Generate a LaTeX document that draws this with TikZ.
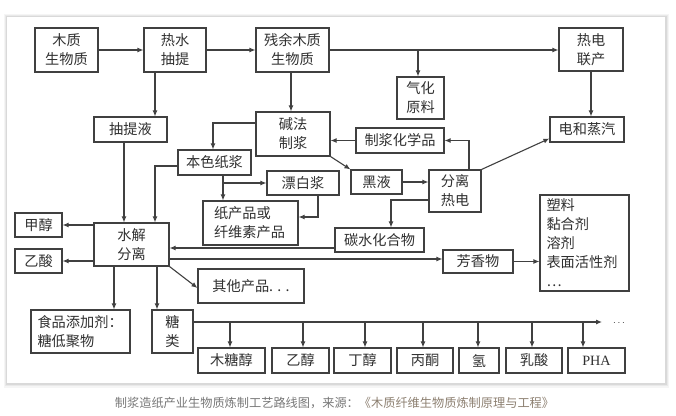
\documentclass[tikz,border=0pt]{standalone}
\usepackage{fontspec}
\setmainfont{Noto Sans CJK SC}
\newfontfamily\phafont{Liberation Serif}
\usetikzlibrary{arrows.meta}
\definecolor{ln}{HTML}{404040}
\definecolor{tx}{HTML}{303030}
\definecolor{capa}{HTML}{777777}
\definecolor{capb}{HTML}{8C7F70}
\newcommand\bx[6]{\node[box,minimum width=#4pt,minimum height=#5pt] (#1) at (#2,#3) {#6};}
\begin{document}
\begin{tikzpicture}[x=1pt,y=-1pt,
  box/.style={draw=ln, line width=1.1pt, text=tx, inner sep=0pt, align=center, font=\fontsize{14.2}{19}\selectfont},
  arr/.style={draw=ln, line width=1.1pt, -{Latex[length=6pt,width=5pt]}},
  plain/.style={draw=ln, line width=1.1pt}]
\useasboundingbox (0,0) rectangle (676,415);
% card with soft shadow
\fill[black,opacity=0.04] (4,14) rectangle (669,388);
\fill[black,opacity=0.05] (5,15) rectangle (668,386);
\fill[black,opacity=0.07] (6,16) rectangle (667,385);
\fill[white] (7,17) rectangle (665,383);
% nodes
\bx{mz}{66.5}{50}{63}{44}{木质\\生物质}
\bx{rs}{175}{50}{62}{44}{热水\\抽提}
\bx{cy}{292.5}{50}{73}{44}{残余木质\\生物质}
\bx{rd}{591}{49.5}{64}{43}{热电\\联产}
\bx{qh}{420.5}{98}{47}{42}{气化\\原料}
\bx{dz}{587}{129.5}{74}{25}{电和蒸汽}
\bx{ctl}{130.5}{129.5}{73}{25}{抽提液}
\bx{jf}{293}{134}{74}{44}{碱法\\制浆}
\bx{zj}{400}{140.5}{88}{25}{制浆化学品}
\bx{bs}{214.5}{162.5}{73}{25}{本色纸浆}
\bx{pb}{303}{183}{72}{24}{漂白浆}
\bx{hy}{376.5}{182}{51}{24}{黑液}
\bx{fl}{455}{191}{52}{42}{分离\\热电}
\node[box,minimum width=95pt,minimum height=44pt,text width=73pt,align=left] (zc) at (250.5,223) {纸产品或\\纤维素产品};
\bx{th}{379.5}{240}{89}{24}{碳水化合物}
\bx{sj}{131.5}{244.5}{75}{43}{水解\\分离}
\bx{jc}{38.5}{225}{47}{24}{甲醇}
\bx{ys}{38.5}{261}{47}{24}{乙酸}
\bx{fx}{478}{261.5}{70}{23}{芳香物}
\node[box,minimum width=89pt,minimum height=96pt,text width=76pt,align=left] (lb) at (584.5,243) {塑料\\黏合剂\\溶剂\\表面活性剂\\…};
\bx{qt}{251}{286}{106}{34}{其他产品. . .}
\node[box,minimum width=99pt,minimum height=43pt,text width=86pt,align=left] (sp) at (80.5,331.5) {食品添加剂：\\糖低聚物};
\bx{tl}{172.5}{331.5}{41}{43}{糖\\类}
\bx{b1}{231.5}{360.5}{67}{25}{木糖醇}
\bx{b2}{300.5}{360.5}{57}{25}{乙醇}
\bx{b3}{362.5}{360.5}{57}{25}{丁醇}
\bx{b4}{425}{360.5}{56}{25}{丙酮}
\bx{b5}{479}{360.5}{40}{25}{氢}
\bx{b6}{534}{360.5}{56}{25}{乳酸}
\bx{b7}{596.5}{360.5}{57}{25}{\phafont PHA}
% connectors
\draw[arr] (mz.east) -- (rs.west);
\draw[arr] (rs.east) -- (cy.west);
\draw[arr] (cy.east) -- (cy.east -| rd.west);
\draw[arr] ([xshift=-2.5pt]qh.north |- cy.east) -- ([xshift=-2.5pt]qh.north);
\draw[arr] (rd.south) -- (rd.south |- dz.north);
\draw[arr] ([xshift=-20pt]rs.south) -- ([xshift=-20pt]rs.south |- ctl.north);
\draw[arr] ([xshift=-1.5pt]cy.south) -- ([xshift=-1.5pt]cy.south |- jf.north);
\draw[arr] ([xshift=-6.5pt]ctl.south) -- ([xshift=-6.5pt]ctl.south |- sj.north);
\draw[arr] ([yshift=11pt]jf.west) -| ([xshift=-1.5pt]bs.north);
\draw[arr] ([yshift=-3.5pt]bs.west) -| ([xshift=23.5pt]sj.north);
\draw[arr] ([xshift=8.5pt]bs.south) -- ([xshift=8.5pt]bs.south |- zc.north);
\draw[arr] ([xshift=8.5pt]bs.south |- pb.west) -- (pb.west);
\draw[arr] ([xshift=15pt]pb.south) |- ([yshift=6pt]zc.east);
\draw[arr] (zj.west) -- (zj.west -| jf.east);
\draw[arr] ([xshift=14pt]fl.north) |- (zj.east);
\draw[arr] (jf.south east) -- (hy.north west);
\draw[arr] (hy.east) -- (hy.east -| fl.west);
\draw[arr] (fl.north east) -- ([yshift=-9pt]dz.west);
\draw[arr] ([yshift=-9pt]fl.west) -| ([xshift=11.5pt]th.north);
\draw[arr] ([yshift=-8pt]th.west) -- ([yshift=-8pt]th.west -| sj.east);
\draw[arr] ([yshift=-14.5pt]sj.east) -- ([yshift=-14.5pt]sj.east -| fx.west);
\draw[arr] (fx.east) -- (fx.east -| lb.west);
\draw[arr] (sj.west |- jc.east) -- (jc.east);
\draw[arr] (sj.west |- ys.east) -- (ys.east);
\draw[arr] ([xshift=-17.5pt]sj.south) -- ([xshift=-17.5pt]sj.south |- sp.north);
\draw[arr] ([xshift=25.5pt]sj.south) -- ([xshift=25.5pt]sj.south |- tl.north);
\draw[arr] (sj.south east) -- ([yshift=-2pt]qt.west);
\coordinate (busend) at (602,322);
\draw[arr] ([yshift=9.5pt]tl.east) -- (busend);
\node[text=tx, inner sep=0pt] (dots) at (619,323) {$\cdots$};
\foreach \b/\dx in {b1/-1.5, b2/2.5, b3/2.5, b4/-2, b5/-1, b6/-2, b7/-13.5}{
  \draw[arr] ([xshift=\dx pt]\b.north |- busend) -- ([xshift=\dx pt]\b.north);
}
% caption
\node[inner sep=0pt, font=\fontsize{12.2}{14}\selectfont] (cap) at (334.5,403)
  {\textcolor{capa}{制浆造纸产业生物质炼制工艺路线图，来源：}\textcolor{capb}{《木质纤维生物质炼制原理与工程》}};
\end{tikzpicture}
\end{document}
